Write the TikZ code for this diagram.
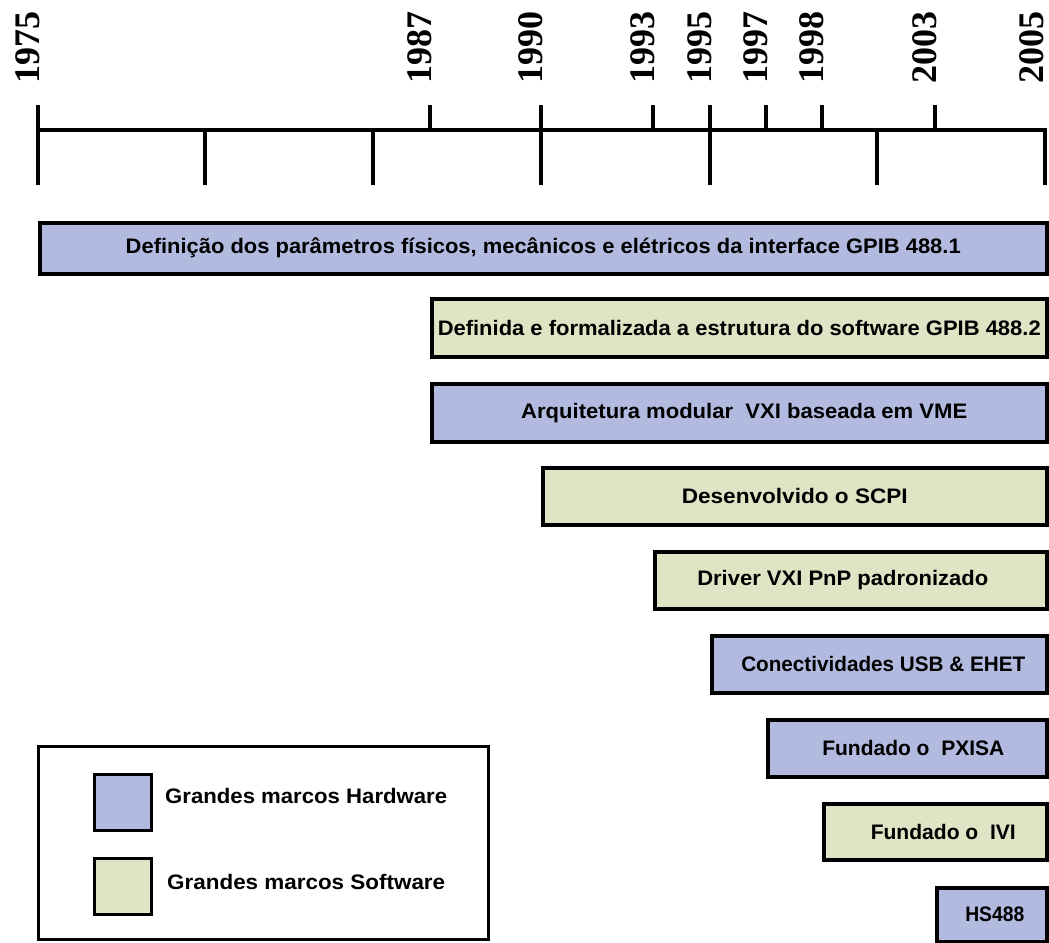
\documentclass[tikz,border=0pt]{standalone}
\usepackage{fontspec}
\setmainfont{Liberation Serif}
\newfontfamily\boxfont{Liberation Sans}
\usepackage{graphicx}
\definecolor{hw}{RGB}{178,186,224}
\definecolor{sw}{RGB}{221,229,197}
\tikzset{
  axisline/.style={line width=4pt},
  tickline/.style={line width=3.5pt},
  yearlbl/.style={rotate=90, anchor=base west, inner sep=0pt,
    font=\fontsize{36}{36}\selectfont\bfseries},
  evbox/.style={draw=black, line width=3.5pt, inner sep=0pt,
    font=\fontsize{21}{21}\selectfont\bfseries\boxfont},
  hwbox/.style={evbox, fill=hw},
  swbox/.style={evbox, fill=sw},
  legframe/.style={draw=black, line width=3pt},
  legswatch/.style={draw=black, line width=3pt, minimum width=57pt, minimum height=56pt, inner sep=0pt},
  legtext/.style={inner sep=0pt, font=\fontsize{21}{21}\selectfont\bfseries\boxfont},
}
\newcommand\fitw[2]{\resizebox{#1pt}{\height}{#2}}
\newcommand\shiftr[1]{\hspace*{#1pt}}
\begin{document}
\begin{tikzpicture}[x=1pt,y=-1pt]
\useasboundingbox (0,0) rectangle (1049,942);
% axis
\coordinate (axL) at (38,130);
\coordinate (axR) at (1047,130);
\draw[axisline] (axL) -- (axR);
% ticks: full
\foreach \x in {38,541,710}{\draw[tickline] (\x,105) -- (\x,185);}
% ticks: up only
\foreach \x in {430,653,766,822,935}{\draw[tickline] (\x,105) -- (\x,130);}
% ticks: down only
\foreach \x in {205,373,877,1045}{\draw[tickline] (\x,130) -- (\x,185);}
% year labels
\foreach \x/\y in {38/1975,430/1987,541/1990,653/1993,710/1995,766/1997,822/1998,935/2003,1042/2005}{
  \node[yearlbl] (y\y) at (\x+1,84) {\y};
}
% event boxes
\node[hwbox, minimum width=1007pt, minimum height=51pt, anchor=north west] (b1) at (38,221)
  {\fitw{835}{Definição dos parâmetros físicos, mecânicos e elétricos da interface GPIB 488.1}};
\node[swbox, minimum width=615pt, minimum height=58pt, anchor=north west] (b2) at (430,297)
  {\fitw{603}{Definida e formalizada a estrutura do software GPIB 488.2}};
\node[hwbox, minimum width=615pt, minimum height=58pt, anchor=north west] (b3) at (430,382)
  {\shiftr{10}\fitw{446}{Arquitetura modular\ \ VXI baseada em VME}};
\node[swbox, minimum width=504pt, minimum height=57pt, anchor=north west] (b4) at (541,466)
  {\fitw{226}{Desenvolvido o SCPI}};
\node[swbox, minimum width=392pt, minimum height=57pt, anchor=north west] (b5) at (653,550)
  {\fitw{291}{Driver VXI PnP padronizado}\shiftr{16}};
\node[hwbox, minimum width=335pt, minimum height=57pt, anchor=north west] (b6) at (710,634)
  {\shiftr{8}\fitw{284}{Conectividades USB \& EHET}};
\node[hwbox, minimum width=279pt, minimum height=57pt, anchor=north west] (b7) at (766,718)
  {\shiftr{12}\fitw{182}{Fundado o\ \ PXISA}};
\node[swbox, minimum width=223pt, minimum height=56pt, anchor=north west] (b8) at (822,802)
  {\shiftr{16}\fitw{145}{Fundado o\ \ IVI}};
\node[hwbox, minimum width=110pt, minimum height=54pt, anchor=north west] (b9) at (935,886)
  {\shiftr{6}\fitw{59}{HS488}};
% legend
\node[legframe, minimum width=450pt, minimum height=193pt, anchor=north west, inner sep=0pt] (leg) at (37,745) {};
\node[legswatch, fill=hw, anchor=north west] (lhw) at (93,773) {};
\node[legswatch, fill=sw, anchor=north west] (lsw) at (93,857) {};
\node[legtext, anchor=west] (lhwt) at (165,796) {\fitw{282}{Grandes marcos Hardware}};
\node[legtext, anchor=west] (lswt) at (167,882) {\fitw{278}{Grandes marcos Software}};
\end{tikzpicture}
\end{document}
